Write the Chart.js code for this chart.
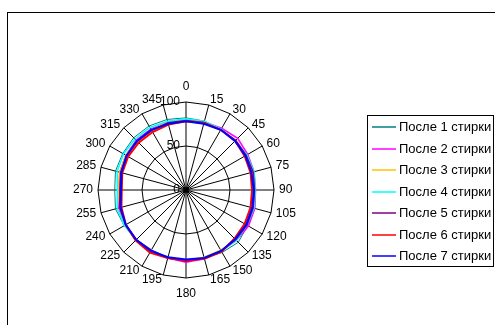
<!DOCTYPE html>
<html>
<head>
<meta charset="utf-8">
<script src="https://cdn.jsdelivr.net/npm/chart.js@4/dist/chart.umd.min.js"></script>
<style>
  html, body { margin: 0; padding: 0; background: #fff; }
  #wrap { position: relative; width: 495px; height: 325px; overflow: hidden; }
  #frame { position: absolute; left: 7px; top: 12px; width: 600px; height: 600px;
           border-left: 1px solid #000; border-top: 1px solid #000; box-sizing: border-box; }
  #holder { position: absolute; left: 0; top: 0; width: 495px; height: 325px; }
</style>
</head>
<body>
<div id="wrap">
  <div id="frame"></div>
  <div id="holder"><canvas id="c"></canvas></div>
</div>
<script>
// Directions (degrees) around the polar plot
const angles = ['0','15','30','45','60','75','90','105','120','135','150','165',
                '180','195','210','225','240','255','270','285','300','315','330','345'];

// Radial axis values that carry a label
const radialTicks = [0, 50, 100];

// Measurements after each wash
const wash1 = [82,81,79,78,78,79,79,80,81,84,82,80,80,80,79,80,81,83,81,83,83,84,84,83];
const wash2 = [80,80,81,83,81,80,79,81,82,81,80,81,82,80,79,80,80,79,76,78,79,80,80,80];
const wash3 = [80,79,79,79,79,78,78,79,79,80,79,79,80,80,81,81,80,78,77,78,79,79,79,80];
const wash4 = [81,81,80,79,80,80,79,80,80,81,80,80,80,80,79,80,81,81,78,81,82,82,82,81];
const wash5 = [79,79,79,80,79,79,78,79,80,80,80,80,81,80,79,80,79,78,75,77,78,78,78,79];
const wash6 = [78,79,79,79,77,76,75,76,77,78,81,81,80,80,82,81,79,76,73,75,76,76,76,77];
const wash7 = [78,78,79,79,78,77,77,78,79,79,80,80,79,79,80,80,79,77,74,76,78,79,79,78];

const seriesNames = ['После 1 стирки','После 2 стирки','После 3 стирки','После 4 стирки',
                     'После 5 стирки','После 6 стирки','После 7 стирки'];
const seriesData = [wash1, wash2, wash3, wash4, wash5, wash6, wash7];
const seriesColors = ['#008080','#FF00FF','#FFC000','#00FFFF','#800080','#FF0000','#0000FF'];
const seriesWidths = [1, 1.5, 1.5, 1.5, 1.5, 2, 2];

const FONT = '"Liberation Sans", Arial, sans-serif';
Chart.defaults.font.family = FONT;
Chart.defaults.color = '#000';

// Direction labels, value labels on the vertical axis and a boxed legend
const extras = {
  id: 'extras',
  afterDraw(chart) {
    const ctx = chart.ctx;
    const r = chart.scales.r;
    const outer = r.getDistanceFromCenterForValue(r.max);
    ctx.save();
    ctx.fillStyle = '#000';
    ctx.font = '12px ' + FONT;
    ctx.textBaseline = 'middle';

    // direction labels just outside the outer ring
    r._pointLabels.forEach((txt, i) => {
      const deg = i * 360 / r._pointLabels.length;
      if (deg === 0 || deg === 180) {
        const p = r.getPointPosition(i, outer + 15.5);
        ctx.textAlign = 'center';
        ctx.fillText(txt, p.x, p.y);
      } else {
        const p = r.getPointPosition(i, outer + 5);
        ctx.textAlign = deg < 180 ? 'left' : 'right';
        ctx.fillText(txt, p.x, p.y);
      }
    });

    // value labels left of the vertical axis
    ctx.textAlign = 'right';
    radialTicks.forEach(v => {
      const y = r.yCenter - r.getDistanceFromCenterForValue(v);
      ctx.fillText(String(v), r.xCenter - 6, y);
    });

    // legend
    const bx = 367.5, by = 115.5, bw = 126, bh = 151;
    ctx.strokeStyle = '#000';
    ctx.lineWidth = 1;
    ctx.strokeRect(bx, by, bw, bh);
    ctx.font = '13px ' + FONT;
    ctx.textAlign = 'left';
    chart.data.datasets.forEach((ds, i) => {
      const y = 127 + i * 21.5;
      ctx.strokeStyle = ds.borderColor;
      ctx.lineWidth = 1.5;
      ctx.beginPath();
      ctx.moveTo(372, Math.round(y));
      ctx.lineTo(396, Math.round(y));
      ctx.stroke();
      ctx.fillStyle = '#000';
      ctx.fillText(ds.label, 399, y + 0.5);
    });
    ctx.restore();
  }
};

new Chart(document.getElementById('c'), {
  type: 'radar',
  data: {
    labels: angles,
    datasets: seriesData.map((d, i) => ({
      label: seriesNames[i],
      data: d,
      borderColor: seriesColors[i],
      backgroundColor: seriesColors[i],
      borderWidth: seriesWidths[i],
      pointRadius: 0,
      fill: false,
      tension: 0,
      order: seriesData.length - i
    }))
  },
  options: {
    responsive: true,
    maintainAspectRatio: false,
    animation: false,
    devicePixelRatio: 1,
    layout: { padding: { left: 0, top: 102, right: 123, bottom: 47 } },
    plugins: { legend: { display: false }, tooltip: { enabled: false } },
    elements: { line: { borderJoinStyle: 'miter' } },
    scales: {
      r: {
        min: 0,
        max: 100,
        beginAtZero: true,
        ticks: { display: false, stepSize: 50 },
        grid: { color: '#000', lineWidth: 1, circular: false },
        angleLines: { color: '#000', lineWidth: 1 },
        pointLabels: { display: false }
      }
    }
  },
  plugins: [extras]
});
</script>
</body>
</html>
